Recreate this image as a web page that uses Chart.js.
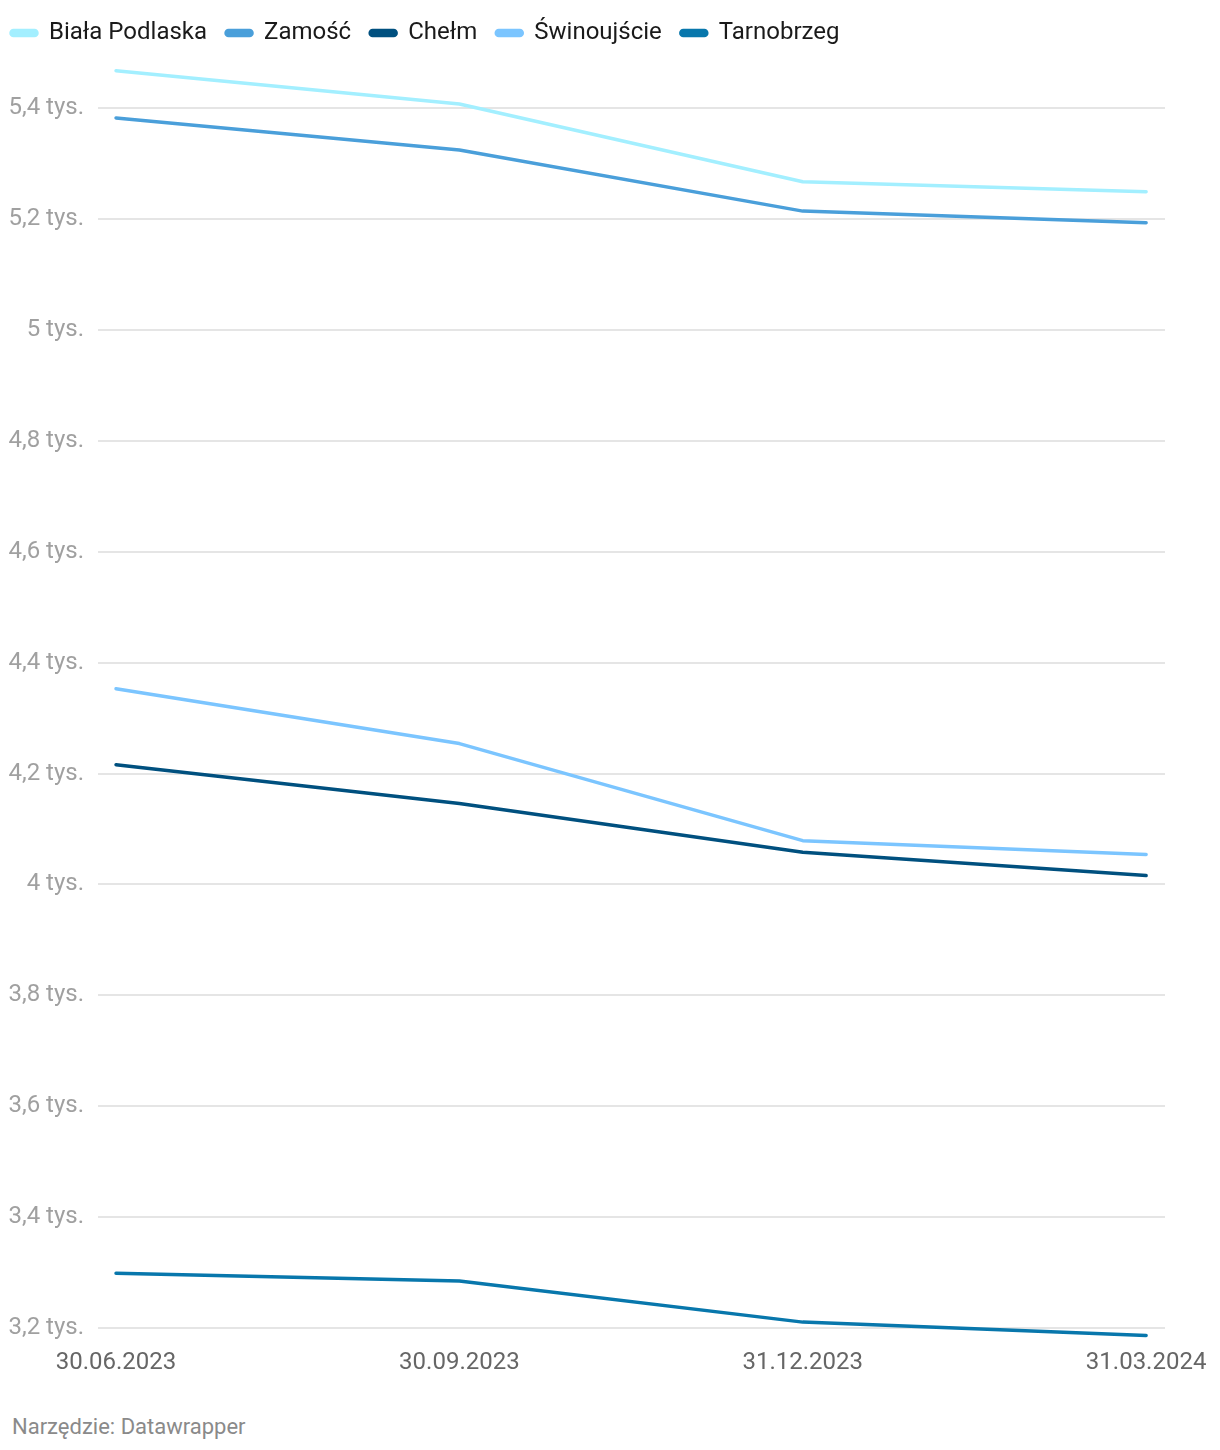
<!DOCTYPE html>
<html lang="pl">
<head>
<meta charset="utf-8">
<script src="https://cdn.jsdelivr.net/npm/chart.js@4"></script>
<style>
  html, body { margin: 0; padding: 0; background: #fff; }
  body { width: 1220px; height: 1450px; position: relative; overflow: hidden; font-family: Roboto, sans-serif; }
  #wrap { position: absolute; left: -8px; top: 0; width: 1228px; height: 1379px; }
  #footer { position: absolute; left: 12px; top: 1414px; font-size: 22px; color: #8a8a8a; }
</style>
</head>
<body>
<div id="wrap"><canvas id="lineChart"></canvas></div>
<div id="footer">Narzędzie: Datawrapper</div>
<script>
// dates along the x axis
const dates = ['30.06.2023', '30.09.2023', '31.12.2023', '31.03.2024'];

// values per city
const bialaPodlaska = [5467, 5407, 5267, 5249];
const zamosc = [5382, 5324, 5214, 5193];
const chelm = [4216, 4146, 4058, 4016];
const swinoujscie = [4353, 4254, 4079, 4054];
const tarnobrzeg = [3299, 3285, 3211, 3187];

// y axis ticks
const yTicks = [3200, 3400, 3600, 3800, 4000, 4200, 4400, 4600, 4800, 5000, 5200, 5400];

const series = [
    { label: 'Biała Podlaska', data: bialaPodlaska, color: '#a3efff' },
    { label: 'Zamość', data: zamosc, color: '#4a9fda' },
    { label: 'Chełm', data: chelm, color: '#00507f' },
    { label: 'Świnoujście', data: swinoujscie, color: '#7bc5ff' },
    { label: 'Tarnobrzeg', data: tarnobrzeg, color: '#0877ac' }
];

const fmtTys = (v) => String(+(v / 1000).toFixed(1)).replace('.', ',') + ' tys.';

// adds a bit of room under the legend
const legendSpacer = {
    id: 'legendSpacer',
    afterInit(chart) {
        const legend = chart.legend;
        if (!legend) return;
        const origFit = legend.fit;
        legend.fit = function() {
            origFit.call(this);
            this.height += 8;
        };
    }
};

const ctx = document.getElementById('lineChart').getContext('2d');

new Chart(ctx, {
    type: 'line',
    data: {
        datasets: series.map(s => ({
            label: s.label,
            data: s.data.map((v, i) => ({ x: i, y: v })),
            borderColor: s.color,
            backgroundColor: s.color,
            borderWidth: 3.5,
            borderCapStyle: 'round',
            borderJoinStyle: 'round',
            pointRadius: 0,
            pointHoverRadius: 0,
            tension: 0,
            fill: false
        }))
    },
    options: {
        responsive: true,
        maintainAspectRatio: false,
        animation: false,
        layout: {
            padding: { left: 0, right: 55, top: 2, bottom: 0 }
        },
        scales: {
            x: {
                type: 'linear',
                min: -0.0525,
                max: 3.055,
                afterBuildTicks: (axis) => {
                    axis.ticks = dates.map((d, i) => ({ value: i }));
                },
                ticks: {
                    autoSkip: false,
                    maxRotation: 0,
                    padding: 2,
                    color: '#666666',
                    font: { family: 'Roboto', size: 24 },
                    callback: (value) => dates[value]
                },
                grid: { display: false },
                border: { display: false }
            },
            y: {
                min: 3182,
                max: 5481,
                afterBuildTicks: (axis) => {
                    axis.ticks = yTicks.map(v => ({ value: v }));
                },
                afterFit: (axis) => {
                    axis.width = 106;
                },
                ticks: {
                    padding: 14,
                    color: '#a0a0a0',
                    font: { family: 'Roboto', size: 24 },
                    callback: (value) => fmtTys(value)
                },
                grid: {
                    color: '#e5e5e5',
                    lineWidth: 2,
                    drawTicks: false
                },
                border: { display: false }
            }
        },
        plugins: {
            legend: {
                position: 'top',
                align: 'start',
                labels: {
                    boxWidth: 26,
                    boxHeight: 5,
                    useBorderRadius: true,
                    borderRadius: 2.5,
                    padding: 19,
                    color: '#1a1a1a',
                    font: { family: 'Roboto', size: 24 }
                }
            },
            tooltip: { enabled: false }
        }
    },
    plugins: [legendSpacer]
});
</script>
</body>
</html>
